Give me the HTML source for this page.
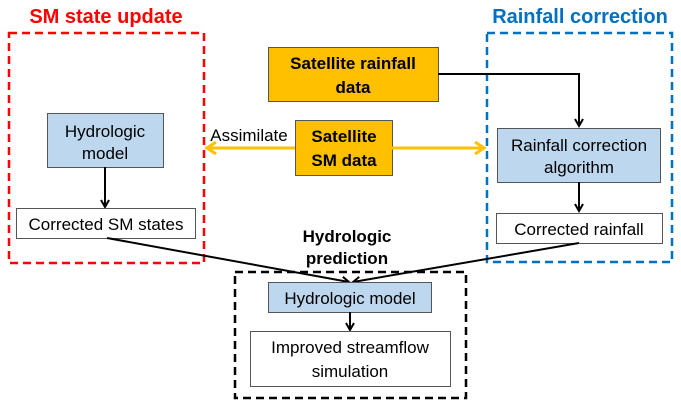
<!DOCTYPE html>
<html><head><style>body{margin:0;background:#fff}</style></head><body>
<svg width="681" height="407" xmlns="http://www.w3.org/2000/svg" font-family="'Liberation Sans', sans-serif">
<defs>
<marker id="a" markerWidth="10" markerHeight="10" refX="8" refY="5" orient="auto" markerUnits="userSpaceOnUse"><path d="M1,1 L8,5 L1,9" fill="none" stroke="#000" stroke-width="2"/></marker>
<marker id="y" markerWidth="14" markerHeight="14" refX="11" refY="7" orient="auto" markerUnits="userSpaceOnUse"><path d="M2,1 L11,7 L2,13" fill="none" stroke="#ffc000" stroke-width="3"/></marker>
</defs>
<text x="106" y="23" fill="#ff0000" font-size="20" font-weight="bold" text-anchor="middle">SM state update</text>
<text x="580" y="23" fill="#0070c0" font-size="20" font-weight="bold" text-anchor="middle">Rainfall correction</text>
<rect x="9" y="33" width="195" height="230" fill="none" stroke="#ff0000" stroke-width="2.5" stroke-dasharray="8,5"/>
<rect x="487" y="33" width="185" height="229" fill="none" stroke="#0070c0" stroke-width="2.5" stroke-dasharray="8,5"/>
<rect x="235" y="272" width="231" height="126" fill="none" stroke="#000" stroke-width="2.5" stroke-dasharray="8,5"/>
<g font-size="17">
<rect x="47.5" y="113.5" width="116" height="54" fill="#bdd7ee" stroke="#555"/>
<text x="105" y="137" text-anchor="middle">Hydrologic</text>
<text x="105" y="159" text-anchor="middle">model</text>
<line x1="105" y1="167" x2="105" y2="207" stroke="#000" stroke-width="2" marker-end="url(#a)"/>
<rect x="16.5" y="208.5" width="179" height="30" fill="#fff" stroke="#555"/>
<text x="106" y="230" text-anchor="middle">Corrected SM states</text>
<rect x="268.5" y="47.5" width="170" height="54" fill="#ffc000" stroke="#555"/>
<text x="353" y="69" font-weight="bold" text-anchor="middle">Satellite rainfall</text>
<text x="353" y="93" font-weight="bold" text-anchor="middle">data</text>
<polyline points="438,74 579,74 579,126" fill="none" stroke="#000" stroke-width="2" marker-end="url(#a)"/>
<rect x="295.5" y="120.5" width="97" height="55" fill="#ffc000" stroke="#555"/>
<text x="344" y="142" font-weight="bold" text-anchor="middle">Satellite</text>
<text x="344" y="166" font-weight="bold" text-anchor="middle">SM data</text>
<line x1="295" y1="148" x2="207" y2="148" stroke="#ffc000" stroke-width="3" marker-end="url(#y)"/>
<line x1="392" y1="148" x2="484" y2="148" stroke="#ffc000" stroke-width="3" marker-end="url(#y)"/>
<text x="249" y="141" text-anchor="middle">Assimilate</text>
<rect x="497.5" y="128.5" width="163" height="54" fill="#bdd7ee" stroke="#555"/>
<text x="579" y="151" text-anchor="middle">Rainfall correction</text>
<text x="579" y="173" text-anchor="middle">algorithm</text>
<line x1="579" y1="182" x2="579" y2="211" stroke="#000" stroke-width="2" marker-end="url(#a)"/>
<rect x="496.5" y="213.5" width="166" height="30" fill="#fff" stroke="#555"/>
<text x="579" y="235" text-anchor="middle">Corrected rainfall</text>
<text x="347" y="242" font-weight="bold" text-anchor="middle">Hydrologic</text>
<text x="347" y="264" font-weight="bold" text-anchor="middle">prediction</text>
<line x1="107" y1="238" x2="349" y2="282" stroke="#000" stroke-width="2" marker-end="url(#a)"/>
<line x1="579" y1="243" x2="353" y2="282" stroke="#000" stroke-width="2" marker-end="url(#a)"/>
<rect x="268.5" y="282.5" width="163" height="30" fill="#bdd7ee" stroke="#555"/>
<text x="350" y="304" text-anchor="middle">Hydrologic model</text>
<line x1="350" y1="312" x2="350" y2="330" stroke="#000" stroke-width="2" marker-end="url(#a)"/>
<rect x="250.5" y="331.5" width="200" height="55" fill="#fff" stroke="#555"/>
<text x="350" y="353" text-anchor="middle">Improved streamflow</text>
<text x="350" y="377" text-anchor="middle">simulation</text>
</g>
</svg>
</body></html>
